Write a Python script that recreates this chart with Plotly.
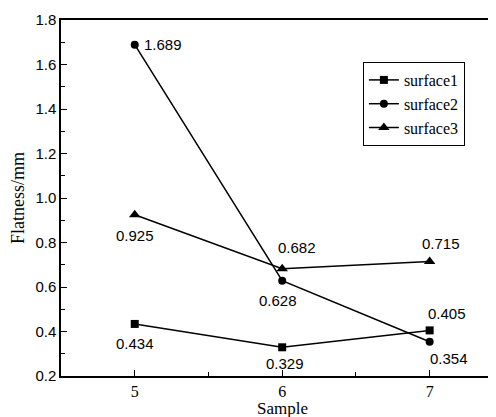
import plotly.graph_objects as go

samples = [5, 6, 7]
surface1 = [0.434, 0.329, 0.405]
surface2 = [1.689, 0.628, 0.354]
surface3 = [0.925, 0.682, 0.715]
series_names = ["surface1", "surface2", "surface3"]
y_ticks = [0.2, 0.4, 0.6, 0.8, 1.0, 1.2, 1.4, 1.6, 1.8]

# label offsets (px) per series per point
offsets = {
    "surface1": [(0, -20), (3, -16), (17, 17)],
    "surface2": [(28, 0), (-4, -20), (19, -17)],
    "surface3": [(0, -21), (15, 21), (11, 18)],
}

fig = go.Figure()
symbols = ["square", "circle", "triangle-up"]
sizes = [8, 8, 10]
data = [surface1, surface2, surface3]
for name, vals, sym, sz in zip(series_names, data, symbols, sizes):
    fig.add_trace(go.Scatter(
        x=samples, y=vals, name=name, mode="lines+markers",
        line=dict(color="black", width=1.5),
        marker=dict(symbol=sym, size=sz, color="black"),
    ))
    for (xv, yv, (dx, dy)) in zip(samples, vals, offsets[name]):
        fig.add_annotation(x=xv, y=yv, xref="x", yref="y", text=f"{yv:.3f}",
                           showarrow=False, xshift=dx, yshift=dy,
                           font=dict(family="Liberation Sans, Arial", size=15, color="black"))

fig.add_annotation(x=6, y=-0.091, xref="x", yref="paper", text="Sample", showarrow=False,
                   yanchor="middle", borderpad=0,
                   font=dict(family="Liberation Serif, Times New Roman", size=17, color="black"))

# The page body has an 8px margin, so the figure is sized to fit the 496x417 window.
fig.update_layout(
    width=488, height=409,
    margin=dict(l=53, r=0, t=12, b=41),
    paper_bgcolor="white", plot_bgcolor="white",
    showlegend=True,
    legend=dict(x=0.694, y=0.882, xanchor="left", yanchor="top",
                bgcolor="white", bordercolor="black", borderwidth=1,
                font=dict(family="Liberation Serif, Times New Roman", size=16, color="black"),
                tracegroupgap=0, itemwidth=30),
    xaxis=dict(range=[4.5, 7.45], tickvals=samples, ticks="inside", ticklen=6,
               tickwidth=1.2, tickcolor="black", automargin=False,
               minor=dict(tickvals=[5.5, 6.5], ticks="inside", ticklen=4, tickcolor="black"),
               showline=True, linecolor="black", linewidth=1.5, mirror=True,
               showgrid=False, zeroline=False,
               tickfont=dict(family="Liberation Serif, Times New Roman", size=16, color="black")),
    yaxis=dict(range=[0.2, 1.8], tickvals=y_ticks, tickformat=".1f", ticks="inside", ticklen=6,
               tickwidth=1.2, tickcolor="black", automargin=False,
               minor=dict(dtick=0.1, ticks="inside", ticklen=4, tickcolor="black"),
               showline=True, linecolor="black", linewidth=1.5,
               showgrid=False, zeroline=False,
               tickfont=dict(family="Liberation Sans, Arial", size=15, color="black"),
               title=dict(text="Flatness/mm", standoff=8,
                          font=dict(family="Liberation Serif, Times New Roman", size=18, color="black"))),
)

fig.write_html("out.html")
